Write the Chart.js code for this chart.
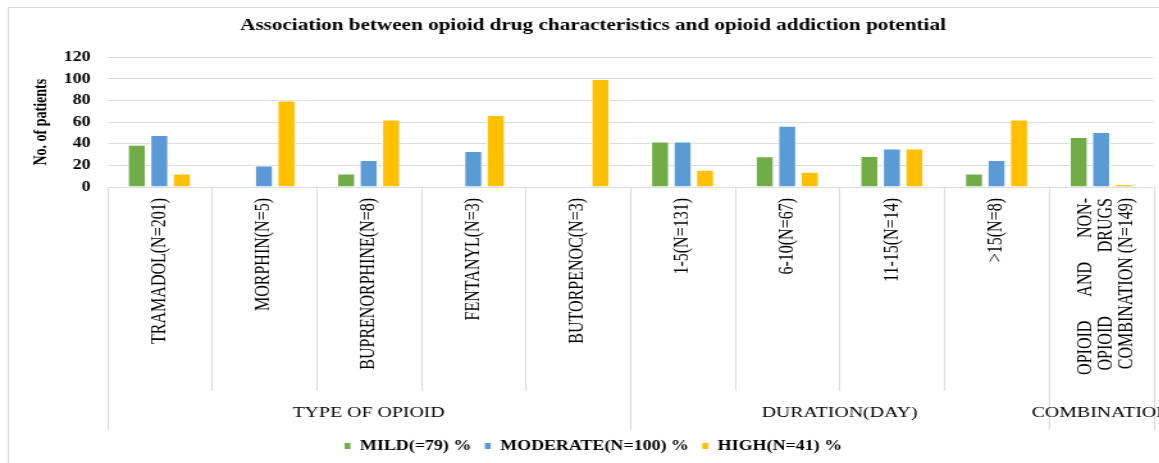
<!DOCTYPE html>
<html>
<head>
<meta charset="utf-8">
<script src="https://cdn.jsdelivr.net/npm/chart.js@4/dist/chart.umd.min.js"></script>
<style>
    html, body { margin: 0; padding: 0; background: #fff; overflow: hidden; width: 1159px; height: 463px; }
    /* the source picture is stretched sideways, so the canvas is too */
    #wrap { width: 926px; height: 463px; transform: scaleX(1.2808); transform-origin: 0 0; }
</style>
</head>
<body>
<div id="wrap"><canvas id="opioid-chart" width="926" height="463"></canvas></div>
<script>
const sp = (n) => '\u00A0'.repeat(n);

const categories = [
    'TRAMADOL(N=201)',
    'MORPHIN(N=5)',
    'BUPRENORPHINE(N=8)',
    'FENTANYL(N=3)',
    'BUTORPENOC(N=3)',
    '1-5(N=131)',
    '6-10(N=67)',
    '11-15(N=14)',
    '>15(N=8)',
    ['OPIOID' + sp(6) + 'AND' + sp(6) + 'NON-', 'OPIOID' + sp(16) + 'DRUGS', 'COMBINATION (N=149)']
];
const groupLabels = ['TYPE OF OPIOID', 'DURATION(DAY)', 'COMBINATION'];
const groupSizes = [5, 4, 1];

const seriesNames = ['MILD(=79) %', 'MODERATE(N=100) %', 'HIGH(N=41) %'];
const mild = [39, 0, 12.5, 0, 0, 42, 28.4, 28.6, 12.5, 46.3];
const moderate = [48, 20, 25, 33.3, 0, 42, 56.7, 35.7, 25, 51];
const high = [12.4, 80, 62.5, 66.7, 100, 16, 14, 35.7, 62.5, 2.7];
const seriesColors = ['#70AD47', '#5B9BD5', '#FFC000'];

const yTicks = [0, 20, 40, 60, 80, 100, 120];

const serif = '"Liberation Serif", "Times New Roman", serif';
const lineColor = '#dcdcdc';

const frame = {
    id: 'frame',
    beforeDraw: (chart) => {
        const ctx = chart.ctx;
        ctx.save();
        ctx.fillStyle = '#fff';
        ctx.fillRect(0, 0, chart.width, chart.height);
        ctx.strokeStyle = '#d9d9d9';
        ctx.lineWidth = 1;
        ctx.strokeRect(6.5, 7.5, chart.width - 13, chart.height + 20);
        ctx.restore();

        // centre the 3-line combination label on its category
        const x = chart.scales.x;
        const items = x.getLabelItems();
        items.forEach((item) => {
            if (Array.isArray(item.label) && !item.shifted) {
                const lh = item.font.lineHeight;
                item.options.translation[0] -= lh * (item.label.length - 1) / 2 - 4;
                item.shifted = true;
            }
        });
    },
    afterDraw: (chart) => {
        const ctx = chart.ctx;
        const x = chart.scales.x;
        const edge = (i) => Math.round(x.getPixelForValue(i - 0.5)) + 0.5;
        const groupEdges = [0];
        groupSizes.forEach((n) => groupEdges.push(groupEdges[groupEdges.length - 1] + n));

        ctx.save();
        ctx.strokeStyle = lineColor;
        ctx.lineWidth = 1;
        for (let i = 0; i <= categories.length; i++) {
            const bottom = groupEdges.includes(i) ? x.bottom + 1 : x.top + 204;
            ctx.beginPath();
            ctx.moveTo(edge(i), x.top);
            ctx.lineTo(edge(i), bottom);
            ctx.stroke();
        }
        ctx.fillStyle = '#000';
        ctx.font = `15.5px ${serif}`;
        ctx.textAlign = 'center';
        ctx.textBaseline = 'middle';
        groupLabels.forEach((label, g) => {
            const cx = (x.getPixelForValue(groupEdges[g] - 0.5) + x.getPixelForValue(groupEdges[g + 1] - 0.5)) / 2;
            ctx.fillText(label, cx, x.top + 225.5);
        });
        ctx.restore();
    }
};

const getDatasets = () => {
    return [mild, moderate, high].map((values, i) => {
        return {
            label: seriesNames[i],
            data: values,
            backgroundColor: seriesColors[i],
            borderColor: '#ffffff',
            borderWidth: 1,
            categoryPercentage: 0.645,
            barPercentage: 0.82
        };
    });
};

const getChartConfig = () => {
    return {
        type: 'bar',
        data: {
            labels: categories,
            datasets: getDatasets()
        },
        options: {
            responsive: false,
            animation: false,
            devicePixelRatio: 1,
            layout: {
                padding: { left: 0, right: 0, top: 0, bottom: 0 }
            },
            plugins: {
                title: {
                    display: true,
                    text: 'Association between opioid drug characteristics and opioid addiction potential',
                    color: '#000',
                    font: { family: serif, size: 16.5, weight: 'bold', lineHeight: 1.2 },
                    padding: { top: 16, bottom: 21.5 }
                },
                legend: {
                    position: 'bottom',
                    labels: {
                        color: '#000',
                        font: { family: serif, size: 14, weight: 'bold' },
                        boxWidth: 5.5,
                        boxHeight: 7,
                        padding: 10
                    }
                },
                tooltip: { enabled: false }
            },
            scales: {
                x: {
                    type: 'category',
                    offset: true,
                    grid: { display: false, drawTicks: false },
                    border: { display: false },
                    ticks: {
                        autoSkip: false,
                        minRotation: 90,
                        maxRotation: 90,
                        padding: 11,
                        color: '#000',
                        font: { family: serif, size: 16, lineHeight: 1.0 }
                    },
                    afterFit: (scale) => { scale.height = 242; }
                },
                y: {
                    min: yTicks[0],
                    max: yTicks[yTicks.length - 1],
                    afterBuildTicks: (scale) => {
                        scale.ticks = yTicks.map((v) => ({ value: v }));
                    },
                    grid: { color: lineColor, drawTicks: false },
                    border: { display: false },
                    ticks: {
                        padding: 12.7,
                        color: '#000',
                        font: { family: serif, size: 14, weight: 'bold' }
                    },
                    title: {
                        display: true,
                        text: 'No. of patients',
                        color: '#000',
                        font: { family: serif, size: 14, weight: 'bold', lineHeight: 1.2 },
                        padding: { top: 24, bottom: 0 }
                    },
                    afterFit: (scale) => { scale.width = 83.54; }
                },
                // empty strip on the right, the original chart runs past the crop
                yRight: {
                    position: 'right',
                    grid: { display: false, drawTicks: false },
                    border: { display: false },
                    ticks: { display: false },
                    afterFit: (scale) => { scale.width = 25.4; }
                }
            }
        },
        plugins: [frame]
    };
};

const createChart = () => {
    const ctx = document.getElementById('opioid-chart').getContext('2d');
    window.opioidChart = new Chart(ctx, getChartConfig());
};

createChart();
</script>
</body>
</html>
